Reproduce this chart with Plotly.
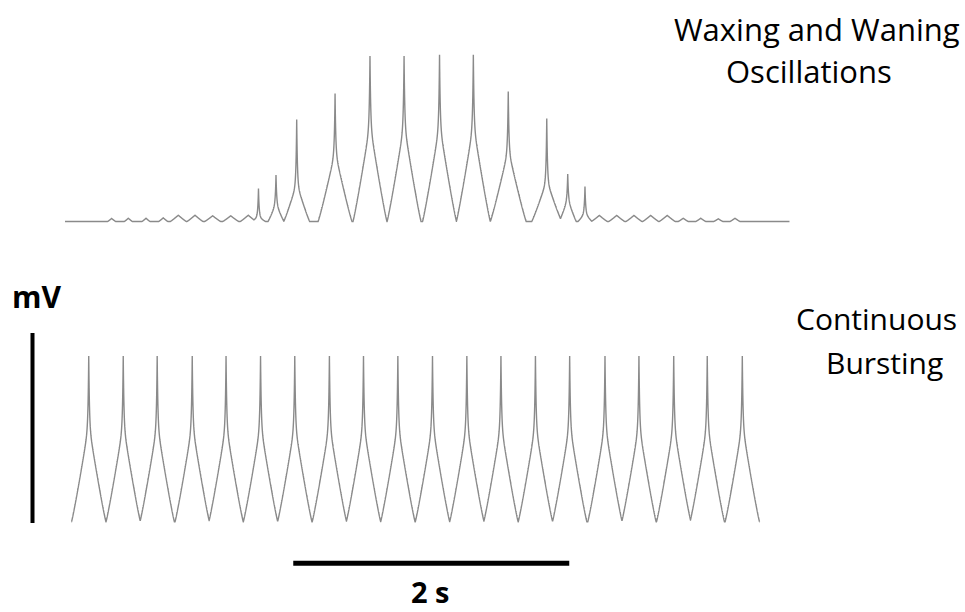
import numpy as np
import plotly.graph_objects as go

# ---------------------------------------------------------------------------
# Waxing-and-waning oscillation: event times (s), slow-wave amplitude (mV),
# spike amplitude on top of the slow wave (mV), half-width of slow wave (s)
# ---------------------------------------------------------------------------
ww_times = [0.338, 0.459, 0.587, 0.712, 0.821, 0.942, 1.070, 1.201, 1.328,
            1.402, 1.529, 1.679, 1.957, 2.210, 2.457, 2.714, 2.959, 3.212,
            3.491, 3.643, 3.768,
            3.872, 3.998, 4.123, 4.244, 4.364, 4.480, 4.607, 4.734, 4.855]
ww_slow_mv = [1.6, 1.7, 1.7, 1.9, 3.3, 3.3, 3.0, 3.0, 3.3,
              2.6, 9.5, 20.0, 36.8, 51.1, 51.1, 51.1, 51.1, 37.9,
              21.6, 11.8, 4.5,
              3.2, 3.2, 3.2, 3.2, 3.2, 1.7, 1.7, 1.4, 1.7]
ww_spike_mv = [0, 0, 0, 0, 0, 0, 0, 0, 0,
               14.7, 15.0, 33.7, 30.5, 36.0, 36.0, 36.6, 36.6, 30.5,
               32.6, 13.2, 13.9,
               0, 0, 0, 0, 0, 0, 0, 0, 0]
ww_halfwidth_s = [0.029, 0.029, 0.029, 0.033, 0.058, 0.058, 0.058, 0.058, 0.058,
                  0.051, 0.058, 0.094, 0.123, 0.123, 0.123, 0.123, 0.123, 0.130,
                  0.109, 0.062, 0.051,
                  0.058, 0.058, 0.058, 0.058, 0.058, 0.036, 0.036, 0.033, 0.036]
ww_span_s = [0.0, 5.25]

# ---------------------------------------------------------------------------
# Continuous bursting: burst times (s), same amplitude for every burst
# ---------------------------------------------------------------------------
cb_times = [0.172, 0.422, 0.668, 0.922, 1.167, 1.417, 1.665, 1.916, 2.163, 2.412,
            2.663, 2.912, 3.159, 3.409, 3.657, 3.913, 4.159, 4.411, 4.654, 4.908]
cb_slow_mv = [51.1] * len(cb_times)
cb_spike_mv = [36.1] * len(cb_times)
cb_halfwidth_s = [0.1246] * len(cb_times)
cb_span_s = [0.047, 5.033]

REST_MV = -65.0          # resting potential of both traces
TOP_OFFSET_MV = 158.0    # vertical offset of the upper trace
SPIKE_TAU_S = 0.0050     # decay of the fast spike component
SLOW_EXP = 1.1           # curvature of the slow depolarisation
SCALE_T_S = 2.0          # time scale bar
SCALE_V_MV = 100.0       # voltage scale bar


def synth(span, times, slow, spike, half):
    t = np.union1d(np.arange(span[0], span[1], 0.0002), np.array(times))
    t = t[(t >= span[0]) & (t <= span[1])]
    slow_part = np.zeros_like(t)
    spike_part = np.zeros_like(t)
    for tk, a, s, w in zip(times, slow, spike, half):
        d = np.abs(t - tk)
        slow_part = np.maximum(slow_part, a * np.clip(1 - d / w, 0, None) ** SLOW_EXP)
        spike_part += s * np.exp(-d / SPIKE_TAU_S)
    return t, REST_MV + slow_part + spike_part


t_ww, v_ww = synth(ww_span_s, ww_times, ww_slow_mv, ww_spike_mv, ww_halfwidth_s)
t_cb, v_cb = synth(cb_span_s, cb_times, cb_slow_mv, cb_spike_mv, cb_halfwidth_s)

TRACE = dict(color="#8a8a8a", width=1.4, simplify=False)

fig = go.Figure()
fig.add_trace(go.Scatter(x=t_ww, y=v_ww + TOP_OFFSET_MV, mode="lines", line=TRACE,
                         hoverinfo="skip"))
fig.add_trace(go.Scatter(x=t_cb, y=v_cb, mode="lines", line=TRACE, hoverinfo="skip"))

# scale bars
bar_v_x = -0.2355
bar_v_y0 = -65.7
fig.add_shape(type="line", x0=bar_v_x, x1=bar_v_x, y0=bar_v_y0, y1=bar_v_y0 + SCALE_V_MV,
              line=dict(color="black", width=4))
bar_t_x0 = 1.654
bar_t_y = -86.9
fig.add_shape(type="line", x0=bar_t_x0, x1=bar_t_x0 + SCALE_T_S, y0=bar_t_y, y1=bar_t_y,
              line=dict(color="black", width=5))

W, H = 965, 612


def label(text, px, py, size, bold=False):
    fig.add_annotation(x=px / W, y=1 - py / H, xref="paper", yref="paper",
                       text=f"<b>{text}</b>" if bold else text, showarrow=False,
                       xanchor="center", yanchor="middle", borderpad=0,
                       font=dict(family="Open Sans", size=size, color="black"))


label("Waxing and Waning", 816.5, 29, 31)
label("Oscillations", 809, 71, 31)
label("Continuous", 876.5, 318, 30)
label("Bursting", 884, 362, 30)
label("mV", 36.7, 296, 30, bold=True)
label("2 s", 430, 591, 29, bold=True)

fig.update_layout(
    width=W, height=H, margin=dict(l=0, r=0, t=0, b=0),
    paper_bgcolor="white", plot_bgcolor="white", showlegend=False,
    xaxis=dict(visible=False, range=[-65 / 138, 900 / 138]),
    yaxis=dict(visible=False, range=[-65 - (612 - 521.7) / 1.9, -65 + 521.7 / 1.9]),
)

fig.write_html("out.html")
